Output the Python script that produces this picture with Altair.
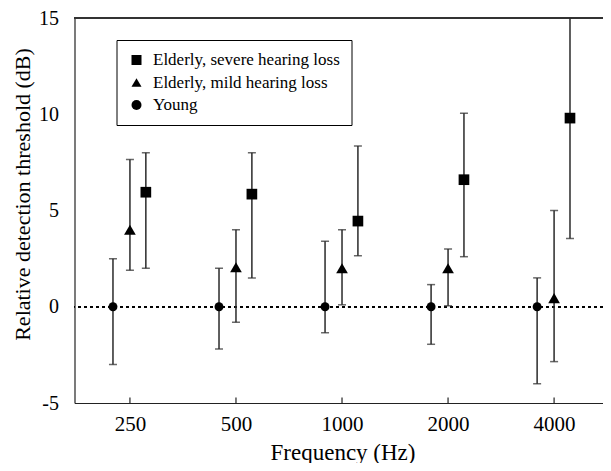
import altair as alt
import pandas as pd

freqs = [250, 500, 1000, 2000, 4000]
group_names = ["Elderly, severe hearing loss", "Elderly, mild hearing loss", "Young"]

severe_mean = [5.95, 5.85, 4.45, 6.6, 9.8]
severe_lo = [2.0, 1.5, 2.65, 2.6, 3.55]
severe_hi = [8.0, 8.0, 8.35, 10.05, 16.0]

mild_mean = [4.0, 2.05, 2.0, 2.0, 0.45]
mild_lo = [1.9, -0.8, 0.1, 0.05, -2.85]
mild_hi = [7.65, 4.0, 4.0, 3.0, 5.0]

young_mean = [0, 0, 0, 0, 0]
young_lo = [-3.0, -2.2, -1.35, -1.95, -4.0]
young_hi = [2.5, 2.0, 3.4, 1.15, 1.5]

rows = []
for g, ms, los, his in zip(group_names,
                           [severe_mean, mild_mean, young_mean],
                           [severe_lo, mild_lo, young_lo],
                           [severe_hi, mild_hi, young_hi]):
    for f, m, lo, hi in zip(freqs, ms, los, his):
        rows.append(dict(group=g, freq=f, mean=m, lo=lo, hi=hi))
df = pd.DataFrame(rows)
ticks_df = pd.DataFrame({"tick": freqs})

FONT = "Liberation Serif"
xscale = alt.Scale(type="log", domain=[174, 5507], nice=False)
yscale = alt.Scale(domain=[-5, 15], nice=False, zero=False)
xaxis = alt.Axis(values=freqs, format="d", ticks=False, tickSize=0, grid=False,
                 title="Frequency (Hz)", labelPadding=27, labelFontSize=21,
                 labelBaseline="alphabetic",
                 titleFontSize=23, titleX=268, titleY=56, titleAlign="center",
                 titleBaseline="alphabetic", titleFontWeight="normal")
yaxis = alt.Axis(values=[-5, 0, 5, 10, 15], labelExpr="'' + datum.value",
                 ticks=False, tickSize=0, grid=False, title="Relative detection threshold (dB)",
                 labelPadding=16, labelFontSize=20, titleFontSize=22,
                 titleX=-52, titleY=176, titleAlign="center", titleBaseline="middle",
                 titleFontWeight="normal")

base = alt.Chart(df).transform_calculate(
    xpos="datum.freq * pow(2, datum.group == 'Young' ? -0.16 : (datum.group == 'Elderly, severe hearing loss' ? 0.15 : 0))"
)
X = alt.X("xpos:Q", scale=xscale, axis=xaxis)

zero_line = alt.Chart(df).mark_rule(color="black", strokeDash=[3, 3], strokeWidth=1).encode(
    y=alt.datum(0, scale=yscale, axis=yaxis)
)
top_line = alt.Chart(df).mark_rule(color="#333", strokeWidth=1.2).encode(y=alt.datum(15))

tick_marks = alt.Chart(ticks_df).mark_rule(color="#222", strokeWidth=1.2).encode(
    x=alt.X("tick:Q", scale=xscale, axis=xaxis),
    y=alt.datum(-5),
    y2=alt.datum(-4.72),
)

ecol = "#2a2a2a"
err = base.mark_rule(color=ecol, strokeWidth=1.5, clip=True).encode(
    x=X, y=alt.Y("lo:Q", scale=yscale, axis=yaxis), y2="hi:Q"
)
cap_lo = base.mark_tick(color=ecol, orient="horizontal", size=8, thickness=1.5, clip=True).encode(
    x=X, y=alt.Y("lo:Q", scale=yscale, axis=yaxis)
)
cap_hi = base.mark_tick(color=ecol, orient="horizontal", size=8, thickness=1.5, clip=True).encode(
    x=X, y=alt.Y("hi:Q", scale=yscale, axis=yaxis)
)

shape_enc = alt.Shape(
    "group:N",
    scale=alt.Scale(domain=group_names, range=["square", "triangle-up", "circle"]),
    legend=alt.Legend(title=None, orient="none", legendX=42, legendY=22,
                      strokeColor="black", fillColor="white", padding=11.5,
                      labelFont=FONT, labelFontSize=17, symbolSize=100,
                      symbolFillColor="black", symbolStrokeColor="black",
                      rowPadding=4.5, labelOffset=8, labelLimit=400),
)

point_layers = []
for g, sz in zip(group_names, [114, 137, 80]):
    point_layers.append(
        base.transform_filter(alt.datum.group == g).mark_point(
            filled=True, color="black", opacity=1, size=sz
        ).encode(x=X, y=alt.Y("mean:Q", scale=yscale, axis=yaxis), shape=shape_enc)
    )

chart = alt.layer(zero_line, top_line, tick_marks, err, cap_lo, cap_hi, *point_layers).properties(
    width=528.5, height=385,
    autosize=alt.AutoSizeParams(type="none"),
    padding={"left": 66.5, "top": 10, "right": 0, "bottom": 60},
).configure_view(stroke=None).configure_axis(
    labelFont=FONT, titleFont=FONT, domainColor="#222", domainWidth=1.2,
    labelColor="black", titleColor="black"
).configure_legend(labelColor="black")

chart.save("out.html", embed_options={"renderer": "svg", "actions": False})
